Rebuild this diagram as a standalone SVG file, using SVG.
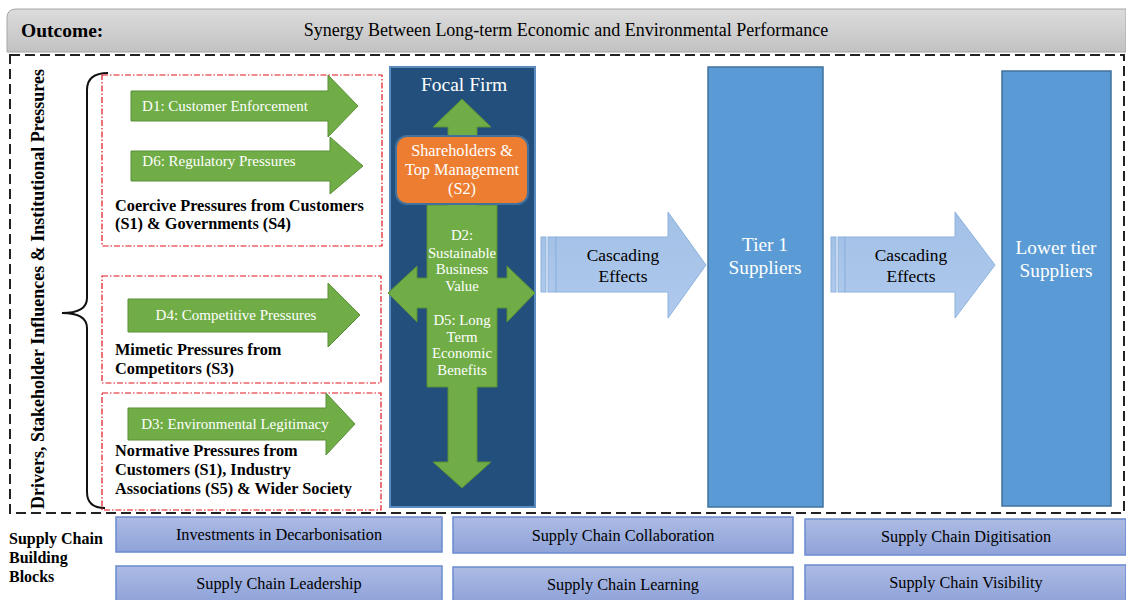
<svg xmlns="http://www.w3.org/2000/svg" width="1126" height="600" viewBox="0 0 1126 600">
<defs>
<linearGradient id="gHead" x1="0" y1="0" x2="0" y2="1"><stop offset="0" stop-color="#dcdcdc"/><stop offset="1" stop-color="#c2c2c2"/></linearGradient>
<linearGradient id="gBlock" x1="0" y1="0" x2="0" y2="1"><stop offset="0" stop-color="#adbbe4"/><stop offset="1" stop-color="#8fa3d9"/></linearGradient>
<linearGradient id="gCasc" x1="0" y1="0" x2="0" y2="1"><stop offset="0" stop-color="#a3c0e6"/><stop offset="1" stop-color="#aec9ec"/></linearGradient>
<style>
.serif{font-family:"Liberation Serif","Times New Roman",serif}
.bold{font-weight:bold}
.red{fill:none;stroke:#e0141e;stroke-width:1.2;stroke-dasharray:6 2 1.5 2}
.green{fill:#70ad47;stroke:#5a8f38;stroke-width:1}
.wt{fill:#fff}
.blk{fill:url(#gBlock);stroke:#6a8bd0;stroke-width:1.5}
.casc{fill:url(#gCasc);stroke:#8db2de;stroke-width:1}
.tier{fill:#5b9bd5;stroke:#41719c;stroke-width:1.5}
</style>
</defs>

<g id="outcome">
<path d="M7 52 V18 Q7 9 16 9 H1126 V52 Z" fill="url(#gHead)" stroke="#a6a6a6" stroke-width="1"/>
<text x="21" y="37" class="serif bold" font-size="19.5">Outcome:</text>
<text x="566" y="36" class="serif" font-size="18" text-anchor="middle">Synergy Between Long-term Economic and Environmental Performance</text>
</g>

<g id="frame">
<rect x="10" y="55" width="1114" height="458" fill="none" stroke="#222" stroke-width="2" stroke-dasharray="10 5"/>
<text transform="translate(44,289) rotate(-90)" class="serif bold" font-size="18" text-anchor="middle">Drivers, Stakeholder Influences &amp; Institutional Pressures</text>
<path d="M108 73 Q87 73 87 90 V298 Q87 313 62 313 Q87 313 87 328 V492 Q87 508 105 508" fill="none" stroke="#111" stroke-width="2"/>
</g>

<g id="coercive">
<rect x="102" y="75" width="280" height="171" class="red"/>
<path d="M131 91 H328 V75 L358 106 L328 137 V121 H131 Z" class="green"/>
<text x="225" y="111" class="serif wt" font-size="15" text-anchor="middle">D1: Customer Enforcement</text>
<path d="M131 151 H330 V137 L363 166 L330 194 V181 H131 Z" class="green"/>
<text x="219" y="166" class="serif wt" font-size="15" text-anchor="middle">D6: Regulatory Pressures</text>
<text x="115" y="211" class="serif bold" font-size="16.3">Coercive Pressures from Customers</text>
<text x="115" y="229" class="serif bold" font-size="16.3">(S1) &amp; Governments (S4)</text>
</g>

<g id="mimetic">
<rect x="102" y="276" width="279" height="107" class="red"/>
<path d="M128 299 H328 V283 L360 315 L328 347 V332 H128 Z" class="green"/>
<text x="236" y="320" class="serif wt" font-size="15" text-anchor="middle">D4: Competitive Pressures</text>
<text x="115" y="355" class="serif bold" font-size="16.3">Mimetic Pressures from</text>
<text x="115" y="374" class="serif bold" font-size="16.3">Competitors (S3)</text>
</g>

<g id="normative">
<rect x="102" y="393" width="279" height="117" class="red"/>
<path d="M128 408 H326 V393 L355 424 L326 455 V440 H128 Z" class="green"/>
<text x="235" y="429" class="serif wt" font-size="15" text-anchor="middle">D3: Environmental Legitimacy</text>
<text x="115" y="456" class="serif bold" font-size="16.3">Normative Pressures from</text>
<text x="115" y="475" class="serif bold" font-size="16.3">Customers (S1), Industry</text>
<text x="115" y="494" class="serif bold" font-size="16.3">Associations (S5) &amp; Wider Society</text>
</g>

<g id="focal-firm">
<rect x="390" y="67" width="145" height="440" fill="#224f7b" stroke="#5a8cc0" stroke-width="2"/>
<text x="464" y="91" class="serif wt" font-size="19.5" text-anchor="middle">Focal Firm</text>
<path d="M462 99 L491 127 H477 V205 H497 V278 H507 V266 L535 293 L507 322 V308 H497 V387 H477 V462 H491 L462 488 L433 462 H448 V387 H427 V308 H417 V322 L388 293 L417 266 V278 H427 V205 H448 V127 H433 Z" class="green"/>
<text class="serif wt" font-size="14.8" text-anchor="middle"><tspan x="462" y="240">D2:</tspan><tspan x="462" y="258">Sustainable</tspan><tspan x="462" y="274">Business</tspan><tspan x="462" y="291">Value</tspan></text>
<text class="serif wt" font-size="14.8" text-anchor="middle"><tspan x="462" y="325">D5: Long</tspan><tspan x="462" y="342">Term</tspan><tspan x="462" y="358">Economic</tspan><tspan x="462" y="375">Benefits</tspan></text>
</g>

<g id="shareholders">
<rect x="396" y="136" width="132" height="68" rx="11" fill="#ed7d31" stroke="#41719c" stroke-width="2"/>
<text class="serif wt" font-size="16.3" text-anchor="middle"><tspan x="462" y="156">Shareholders &amp;</tspan><tspan x="462" y="175">Top Management</tspan><tspan x="462" y="194">(S2)</tspan></text>
</g>

<g id="connectors">
<g id="cascade1">
<rect x="541" y="237" width="5" height="55" class="casc"/>
<rect x="548" y="237" width="8" height="55" class="casc"/>
<path d="M556 237 H668 V212 L706 265 L668 318 V292 H556 Z" class="casc"/>
<text class="serif" font-size="17.4" text-anchor="middle"><tspan x="623" y="261">Cascading</tspan><tspan x="623" y="282">Effects</tspan></text>
</g>
<g id="cascade2">
<rect x="831" y="237" width="5" height="55" class="casc"/>
<rect x="838" y="237" width="7" height="55" class="casc"/>
<path d="M845 237 H955 V212 L995 265 L955 318 V292 H845 Z" class="casc"/>
<text class="serif" font-size="17.4" text-anchor="middle"><tspan x="911" y="261">Cascading</tspan><tspan x="911" y="282">Effects</tspan></text>
</g>
</g>

<g id="tier1">
<rect x="708" y="67" width="115" height="440" class="tier"/>
<text class="serif wt" font-size="19.3" text-anchor="middle"><tspan x="765" y="251">Tier 1</tspan><tspan x="765" y="274">Suppliers</tspan></text>
</g>

<g id="lower-tier">
<rect x="1002" y="71" width="109" height="435" class="tier"/>
<text class="serif wt" font-size="19.3" text-anchor="middle"><tspan x="1056" y="254">Lower tier</tspan><tspan x="1056" y="277">Suppliers</tspan></text>
</g>

<g id="building-blocks">
<text class="serif bold" font-size="16"><tspan x="9" y="544">Supply Chain</tspan><tspan x="9" y="563">Building</tspan><tspan x="9" y="582">Blocks</tspan></text>
<g id="b-decarb"><rect x="116" y="517" width="326" height="35" class="blk"/><text x="279" y="540" class="serif" font-size="16.3" text-anchor="middle">Investments in Decarbonisation</text></g>
<g id="b-collab"><rect x="453" y="517" width="340" height="36" class="blk"/><text x="623" y="541" class="serif" font-size="16.3" text-anchor="middle">Supply Chain Collaboration</text></g>
<g id="b-digit"><rect x="805" y="519" width="321" height="36" class="blk"/><text x="966" y="542" class="serif" font-size="16.3" text-anchor="middle">Supply Chain Digitisation</text></g>
<g id="b-lead"><rect x="116" y="566" width="326" height="36" class="blk"/><text x="279" y="589" class="serif" font-size="16.3" text-anchor="middle">Supply Chain Leadership</text></g>
<g id="b-learn"><rect x="453" y="567" width="340" height="35" class="blk"/><text x="623" y="590" class="serif" font-size="16.3" text-anchor="middle">Supply Chain Learning</text></g>
<g id="b-vis"><rect x="805" y="565" width="321" height="37" class="blk"/><text x="966" y="588" class="serif" font-size="16.3" text-anchor="middle">Supply Chain Visibility</text></g>
</g>
</svg>
